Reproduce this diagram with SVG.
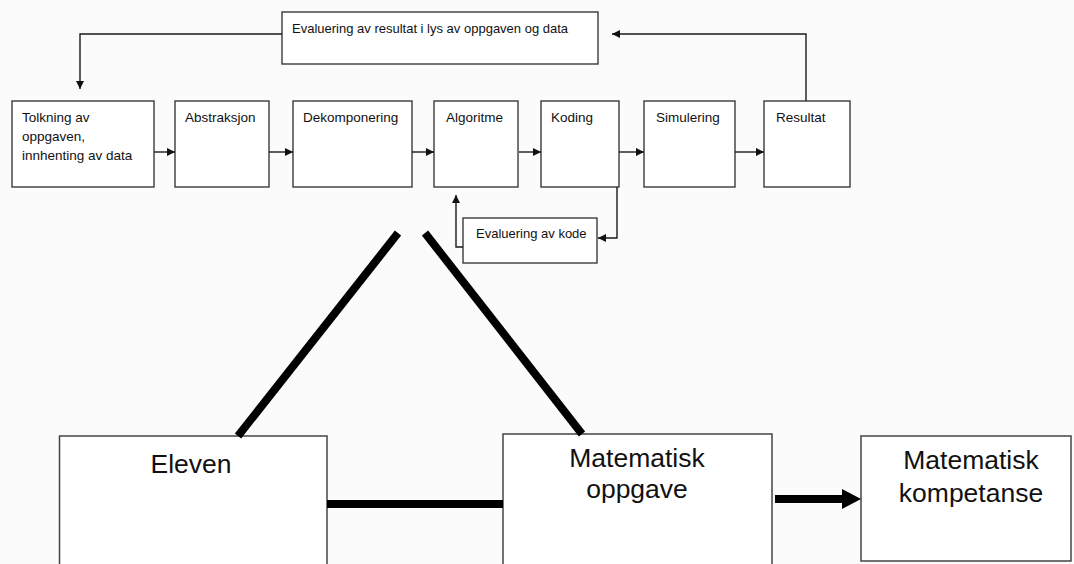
<svg xmlns="http://www.w3.org/2000/svg" width="1074" height="564" viewBox="0 0 1074 564">
  <style>
    .box { fill: #ffffff; stroke: #2b2b2b; stroke-width: 1.3; }
    .bigbox { fill: #ffffff; stroke: #444444; stroke-width: 1.5; }
    .lbl { font-family: "Liberation Sans", Arial, sans-serif; font-size: 13.5px; fill: #111111; }
    .lbl-s { font-family: "Liberation Sans", Arial, sans-serif; font-size: 13px; fill: #111111; }
    .big { font-family: "Liberation Sans", Arial, sans-serif; font-size: 26.5px; fill: #111111; text-anchor: middle; }
    .link { fill: none; stroke: #1a1a1a; stroke-width: 1.4; }
    .thick { fill: none; stroke: #000000; stroke-width: 8; }
  </style>
  <defs>
    <marker id="tip" viewBox="0 0 10 10" refX="10" refY="5" markerWidth="8" markerHeight="8" markerUnits="userSpaceOnUse" orient="auto">
      <path d="M0,0 L10,5 L0,10 z" fill="#111111"/>
    </marker>
  </defs>

  <rect width="1074" height="564" fill="#fbfbfb"/>

  <!-- process chain -->
  <g id="eval-result">
    <rect class="box" x="282" y="12" width="316" height="52"/>
    <text class="lbl-s" x="292" y="33">Evaluering av resultat i lys av oppgaven og data</text>
  </g>
  <g id="tolkning">
    <rect class="box" x="12" y="101" width="142" height="86"/>
    <text class="lbl" x="22" y="122">Tolkning av</text>
    <text class="lbl" x="22" y="141">oppgaven,</text>
    <text class="lbl" x="22" y="160">innhenting av data</text>
  </g>
  <g id="abstraksjon">
    <rect class="box" x="175" y="101" width="94" height="86"/>
    <text class="lbl" x="185" y="122">Abstraksjon</text>
  </g>
  <g id="dekomponering">
    <rect class="box" x="293" y="101" width="119" height="86"/>
    <text class="lbl" x="303" y="122">Dekomponering</text>
  </g>
  <g id="algoritme">
    <rect class="box" x="434" y="101" width="84" height="86"/>
    <text class="lbl" x="446" y="122">Algoritme</text>
  </g>
  <g id="koding">
    <rect class="box" x="541" y="101" width="78" height="86"/>
    <text class="lbl" x="551" y="122">Koding</text>
  </g>
  <g id="simulering">
    <rect class="box" x="644" y="101" width="91" height="86"/>
    <text class="lbl" x="656" y="122">Simulering</text>
  </g>
  <g id="resultat">
    <rect class="box" x="764" y="101" width="86" height="86"/>
    <text class="lbl" x="776" y="122">Resultat</text>
  </g>
  <g id="eval-kode">
    <rect class="box" x="463" y="218" width="134" height="45"/>
    <text class="lbl-s" x="476" y="238">Evaluering av kode</text>
  </g>

  <!-- didactic triangle -->
  <g id="eleven">
    <rect class="bigbox" x="59.5" y="436" width="267.5" height="140"/>
    <text class="big" x="191" y="473">Eleven</text>
  </g>
  <g id="oppgave">
    <rect class="bigbox" x="503" y="434" width="269" height="142"/>
    <text class="big" x="637" y="467">Matematisk</text>
    <text class="big" x="637" y="498">oppgave</text>
  </g>
  <g id="kompetanse">
    <rect class="bigbox" x="861" y="436" width="210" height="125"/>
    <text class="big" x="971" y="469">Matematisk</text>
    <text class="big" x="971" y="502">kompetanse</text>
  </g>

  <g id="connectors">
    <line class="link" x1="154" y1="152" x2="175" y2="152" marker-end="url(#tip)"/>
    <line class="link" x1="269" y1="152" x2="293" y2="152" marker-end="url(#tip)"/>
    <line class="link" x1="412" y1="152" x2="434" y2="152" marker-end="url(#tip)"/>
    <line class="link" x1="519" y1="152" x2="541" y2="152" marker-end="url(#tip)"/>
    <line class="link" x1="619" y1="152" x2="644" y2="152" marker-end="url(#tip)"/>
    <line class="link" x1="735" y1="152" x2="764" y2="152" marker-end="url(#tip)"/>
    <polyline class="link" points="806,101 806,34 612,34" marker-end="url(#tip)"/>
    <polyline class="link" points="282,34 80,34 80,89" marker-end="url(#tip)"/>
    <polyline class="link" points="617,187 617,238 598,238" marker-end="url(#tip)"/>
    <polyline class="link" points="463,247 456,247 456,195" marker-end="url(#tip)"/>

    <line class="thick" x1="398" y1="233" x2="238" y2="436"/>
    <line class="thick" x1="425" y1="233" x2="582" y2="434"/>
    <line class="thick" x1="327" y1="504" x2="503" y2="504" stroke-width="9"/>
    <line class="thick" x1="775" y1="499" x2="845" y2="499" stroke-width="7"/>
    <path d="M842,489 L861,499 L842,509 z" fill="#000000"/>
  </g>
</svg>
